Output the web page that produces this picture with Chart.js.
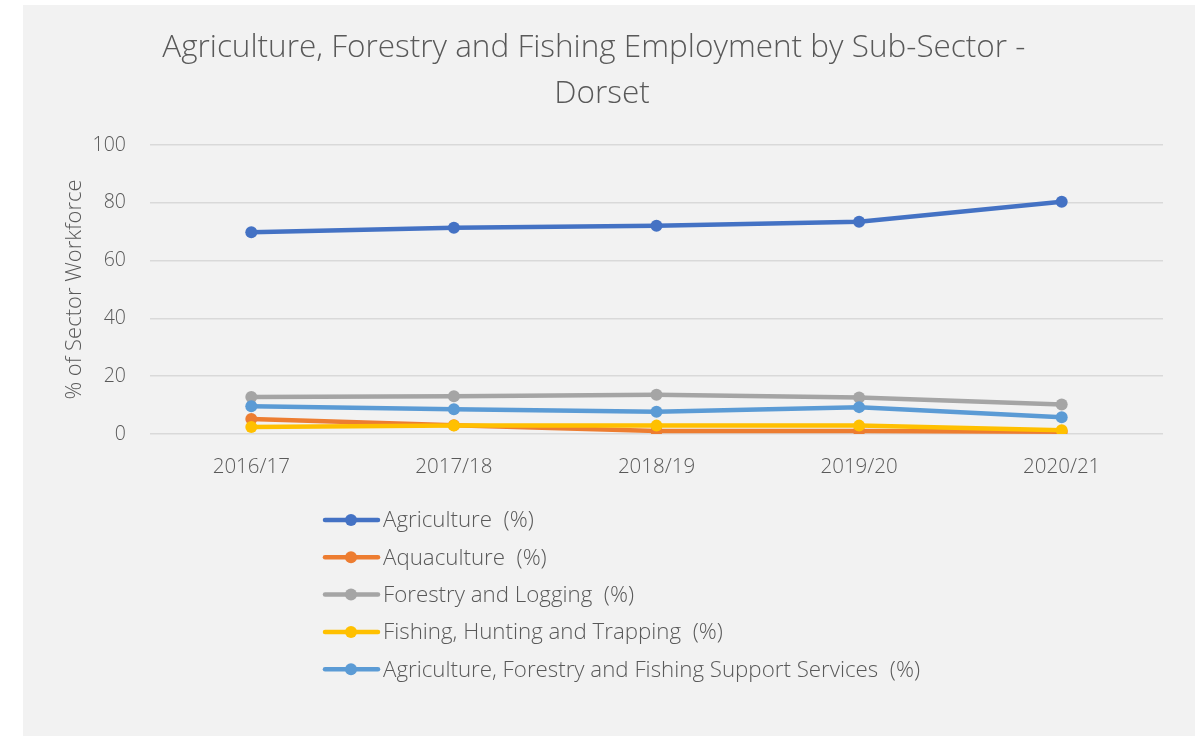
<!DOCTYPE html>
<html>
<head>
<meta charset="utf-8">
<script src="https://cdn.jsdelivr.net/npm/chart.js@4.4.1/dist/chart.umd.min.js"></script>
<style>
    html, body { margin: 0; padding: 0; background: #ffffff; }
    #wrap { width: 1195px; height: 736px; }
</style>
</head>
<body>
<div id="wrap"><canvas id="empChart" width="1195" height="736"></canvas></div>
<script>
// =======================
// DATA
// =======================
const years = ["2016/17", "2017/18", "2018/19", "2019/20", "2020/21"];

const agriculture = [69.8, 71.4, 72.1, 73.5, 80.4];
const aquaculture = [5.2, 3.0, 1.0, 1.0, 0.8];
const forestry = [12.8, 13.1, 13.6, 12.6, 10.2];
const fishing = [2.4, 2.9, 2.9, 2.9, 1.3];
const supportServices = [9.6, 8.6, 7.7, 9.3, 5.8];

const yTicks = [0, 20, 40, 60, 80, 100];

const TEXT = "#595959";
const FONT = "'Open Sans', 'Segoe UI', sans-serif";

// =======================
// PANEL BACKGROUND
// =======================
const panelBg = {
    id: "panelBg",
    beforeDraw(chart) {
        const c = chart.ctx;
        c.save();
        c.fillStyle = "#ffffff";
        c.fillRect(0, 0, chart.width, chart.height);
        c.fillStyle = "#f2f2f2";
        c.fillRect(23, 5, chart.width - 23, chart.height - 5);
        c.restore();
    }
};

// =======================
// LEGEND (one item per row, line + dot marker)
// =======================
const columnLegend = {
    id: "columnLegend",
    afterDraw(chart) {
        const c = chart.ctx;
        const startY = 520;
        const rowGap = 37.3;
        c.save();
        c.font = "300 22.3px " + FONT;
        c.textBaseline = "middle";
        chart.data.datasets.forEach((ds, i) => {
            const y = startY + i * rowGap;
            c.strokeStyle = ds.borderColor;
            c.lineWidth = 4.5;
            c.lineCap = "round";
            c.beginPath();
            c.moveTo(325, y);
            c.lineTo(378, y);
            c.stroke();
            c.fillStyle = ds.borderColor;
            c.beginPath();
            c.arc(351, y, 6, 0, Math.PI * 2);
            c.fill();
            c.fillStyle = TEXT;
            c.fillText(ds.label, 383, y + 1);
        });
        c.restore();
    }
};

function series(label, data, color, order) {
    return {
        label: label,
        data: data,
        borderColor: color,
        backgroundColor: color,
        borderWidth: 4.5,
        pointRadius: 6,
        pointHoverRadius: 6,
        pointBorderWidth: 0,
        tension: 0,
        order: order
    };
}

new Chart(document.getElementById("empChart"), {
    type: "line",
    data: {
        labels: years,
        datasets: [
            series("Agriculture  (%)", agriculture, "#4472c4", 5),
            series("Aquaculture  (%)", aquaculture, "#ed7d31", 4),
            series("Forestry and Logging  (%)", forestry, "#a5a5a5", 3),
            series("Fishing, Hunting and Trapping  (%)", fishing, "#ffc000", 2),
            series("Agriculture, Forestry and Fishing Support Services  (%)", supportServices, "#5b9bd5", 1)
        ]
    },
    options: {
        responsive: false,
        animation: false,
        layout: { padding: { left: 41, right: 32, top: 0, bottom: 252 } },
        plugins: {
            legend: { display: false },
            tooltip: { enabled: false },
            title: {
                display: true,
                text: ["Agriculture, Forestry and Fishing Employment by Sub-Sector -  ", "Dorset"],
                color: TEXT,
                font: { family: FONT, size: 31.5, weight: "300", lineHeight: 1.43 },
                padding: { top: 26, bottom: 29 }
            }
        },
        scales: {
            x: {
                offset: true,
                grid: { display: false, drawTicks: false },
                border: { display: false },
                ticks: {
                    color: TEXT,
                    padding: 21,
                    font: { family: FONT, size: 20.5, weight: "300" }
                },
                afterFit(scale) { scale.height = 50; }
            },
            y: {
                min: 0,
                max: 100,
                afterBuildTicks(scale) {
                    scale.ticks = yTicks.map(v => ({ value: v }));
                },
                grid: { color: "#d9d9d9", lineWidth: 1.5, drawTicks: false },
                border: { display: false },
                ticks: {
                    color: TEXT,
                    padding: 24,
                    font: { family: FONT, size: 19.5, weight: "300" }
                },
                title: {
                    display: true,
                    text: "% of Sector Workforce",
                    color: TEXT,
                    padding: 21,
                    font: { family: FONT, size: 22, weight: "300" }
                },
                afterFit(scale) { scale.width = 109; }
            }
        }
    },
    plugins: [panelBg, columnLegend]
});
</script>
</body>
</html>
